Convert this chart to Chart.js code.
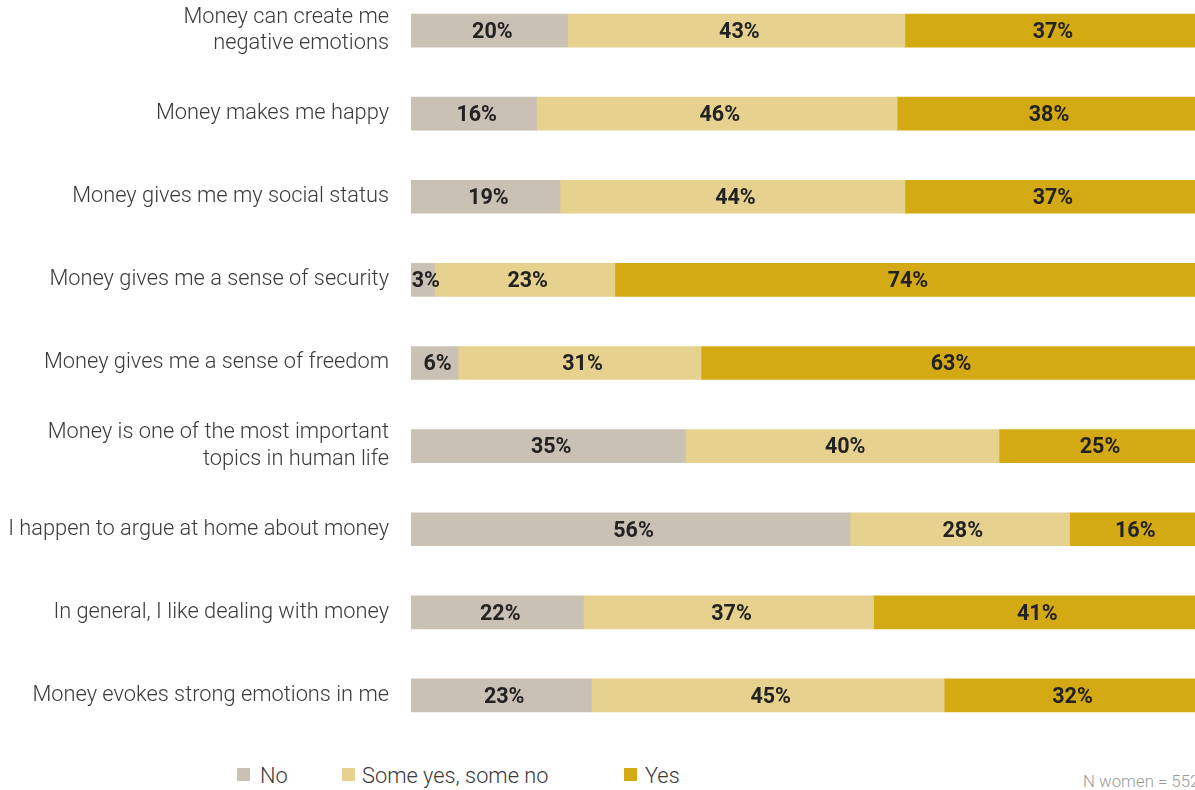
<!DOCTYPE html>
<html>
<head>
<meta charset="utf-8">
<script src="https://cdn.jsdelivr.net/npm/chart.js@4/dist/chart.umd.min.js"></script>
<style>
  html, body { margin: 0; padding: 0; background: #fff; width: 1195px; height: 790px; overflow: hidden; font-family: Roboto, "Noto Sans", sans-serif; }
  #wrap { position: absolute; left: 0; top: -11px; width: 1195px; height: 748px; }
  .sq { position: absolute; top: 768px; width: 13px; height: 13px; }
  .lt { position: absolute; top: 763px; font-size: 21.8px; font-weight: 300; color: #3a3a3a; line-height: 26px; white-space: nowrap; }
  #note { position: absolute; left: 1083px; top: 771px; font-size: 16.8px; font-weight: 300; color: #9a9a9a; white-space: nowrap; }
</style>
</head>
<body>
<div id="wrap"><canvas id="c"></canvas></div>
<div class="sq" style="left:237px;background:#c9c1b4"></div><div class="lt" style="left:260px">No</div>
<div class="sq" style="left:342px;background:#e6d18f"></div><div class="lt" style="left:362px">Some yes, some no</div>
<div class="sq" style="left:624px;background:#d4aa14"></div><div class="lt" style="left:645px">Yes</div>
<div id="note">N women = 552</div>
<script>
// Survey statements (multi-line labels as arrays)
const categories = [
  ["Money can create me", "negative emotions"],
  "Money makes me happy",
  "Money gives me my social status",
  "Money gives me a sense of security",
  "Money gives me a sense of freedom",
  ["Money is one of the most important", "topics in human life"],
  "I happen to argue at home about money",
  "In general, I like dealing with money",
  "Money evokes strong emotions in me"
];
const seriesNames = ["No", "Some yes, some no", "Yes"];
const noValues   = [20, 16, 19, 3, 6, 35, 56, 22, 23];
const someValues = [43, 46, 44, 23, 31, 40, 28, 37, 45];
const yesValues  = [37, 38, 37, 74, 63, 25, 16, 41, 32];
const colors = ["#c9c1b4", "#e6d18f", "#d4aa14"];

// Writes each segment's percentage in its centre
const segmentLabels = {
  id: "segmentLabels",
  afterDatasetsDraw(chart) {
    const ctx = chart.ctx;
    ctx.save();
    ctx.font = "bold 21.5px Roboto, sans-serif";
    ctx.fillStyle = "#222";
    ctx.textAlign = "center";
    ctx.textBaseline = "middle";
    chart.data.datasets.forEach((ds, di) => {
      chart.getDatasetMeta(di).data.forEach((bar, i) => {
        const v = ds.data[i];
        const x = (bar.x + bar.base) / 2 + 3;
        ctx.fillText(v + "%", Math.max(x, chart.chartArea.left + 13), bar.y + 2);
      });
    });
    ctx.restore();
  }
};

new Chart(document.getElementById("c"), {
  type: "bar",
  data: {
    labels: categories,
    datasets: [noValues, someValues, yesValues].map((vals, k) => ({
      label: seriesNames[k],
      data: vals,
      backgroundColor: colors[k],
      borderWidth: 0,
      barThickness: 33
    }))
  },
  options: {
    indexAxis: "y",
    responsive: true,
    maintainAspectRatio: false,
    animation: false,
    layout: { padding: 0 },
    plugins: { legend: { display: false }, tooltip: { enabled: false } },
    scales: {
      x: { stacked: true, min: 0, max: 100, display: false },
      y: {
        stacked: true,
        grid: { display: false, drawTicks: false },
        border: { display: false },
        ticks: {
          color: "#3a3a3a",
          padding: 22,
          font: { family: "Roboto, sans-serif", size: 21.8, weight: 300, lineHeight: 1.2 }
        },
        afterFit(scale) {
          scale.width = 411;
          scale.paddingTop = 0;
          scale.paddingBottom = 0;
        }
      }
    }
  },
  plugins: [segmentLabels]
});
</script>
</body>
</html>
